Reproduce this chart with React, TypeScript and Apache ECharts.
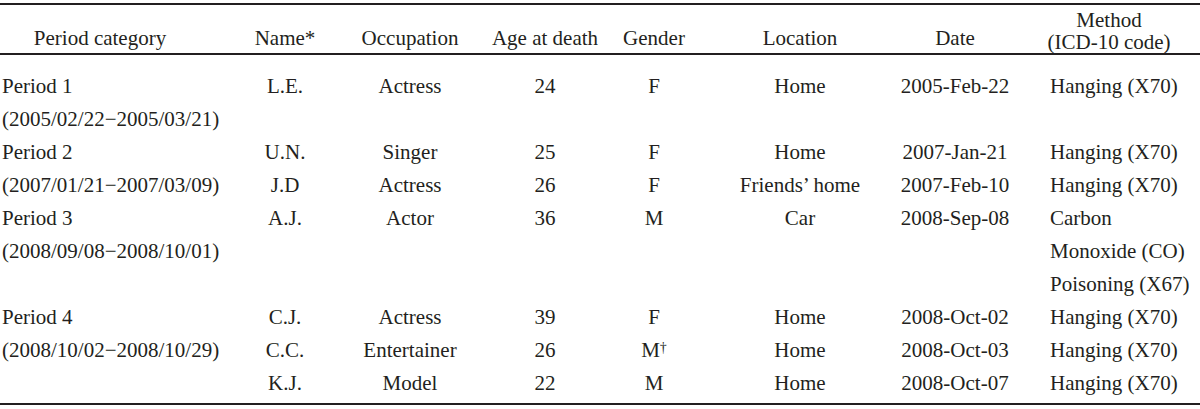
import React, { useEffect, useRef } from "react";
import * as echarts from "echarts";

const headers = ["Period category", "Name*", "Occupation", "Age at death", "Gender", "Location", "Date", "Method"];
const headerSub = "(ICD-10 code)";
const periodLabels = ["Period 1", "Period 2", "Period 3", "Period 4"];
const periodRanges = ["(2005/02/22\u22122005/03/21)", "(2007/01/21\u22122007/03/09)", "(2008/09/08\u22122008/10/01)", "(2008/10/02\u22122008/10/29)"];
const recordPeriod = [0, 1, 1, 2, 3, 3, 3];
const names = ["L.E.", "U.N.", "J.D", "A.J.", "C.J.", "C.C.", "K.J."];
const occupations = ["Actress", "Singer", "Actress", "Actor", "Actress", "Entertainer", "Model"];
const ages = [24, 25, 26, 36, 39, 26, 22];
const genders = ["F", "F", "F", "M", "F", "M\u2020", "M"];
const locations = ["Home", "Home", "Friends\u2019 home", "Car", "Home", "Home", "Home"];
const dates = ["2005-Feb-22", "2007-Jan-21", "2007-Feb-10", "2008-Sep-08", "2008-Oct-02", "2008-Oct-03", "2008-Oct-07"];
const methods = [
  ["Hanging (X70)"],
  ["Hanging (X70)"],
  ["Hanging (X70)"],
  ["Carbon", "Monoxide (CO)", "Poisoning (X67)"],
  ["Hanging (X70)"],
  ["Hanging (X70)"],
  ["Hanging (X70)"],
];

export default function App() {
  const ref = useRef<HTMLDivElement>(null);
  useEffect(() => {
    if (!ref.current) return;
    const chart = echarts.init(ref.current, null, { renderer: "svg" });
    const FONT = "'Liberation Serif', serif";
    const FS = 21;
    const COLOR = "#231f20";
    const colX = [100, 285, 410, 545, 654, 800, 955, 1109];
    const methodLeft = 1050;
    const firstLineY = 86;
    const lineH = 33;

    const els: any[] = [];
    let uid = 0;
    const rule = (y: number, w: number) =>
      els.push({
        id: "rule" + uid++,
        type: "rect",
        z: 10,
        shape: { x: 0, y: y - w / 2, width: 1200, height: w },
        style: { fill: COLOR },
      });
    rule(4, 2);
    rule(54, 1.8);
    rule(404, 2);

    const txt = (x: number, y: number, s: string, align: string, rich?: any) => {
      els.push({
        id: "t" + uid++,
        type: "text",
        x,
        y,
        style: {
          text: s,
          fill: COLOR,
          font: `${FS}px ${FONT}`,
          align,
          verticalAlign: "middle",
          lineHeight: 20,
          rich,
        },
      });
    };

    headers.forEach((h, i) => {
      const y = i === 7 ? 20 : 38;
      txt(colX[i], y, h, "center");
    });
    txt(colX[7], 42, headerSub, "center");

    let line = 0;
    periodLabels.forEach((p, pi) => {
      const recs = recordPeriod.map((v, i) => (v === pi ? i : -1)).filter((i) => i >= 0);
      const start = line;
      let recLine = start;
      recs.forEach((r) => {
        const y = firstLineY + recLine * lineH;
        txt(colX[1], y, names[r], "center");
        txt(colX[2], y, occupations[r], "center");
        txt(colX[3], y, String(ages[r]), "center");
        if (genders[r].endsWith("\u2020")) {
          txt(colX[4], y, `${genders[r].slice(0, -1)}{sup|\u2020}`, "center", {
            sup: { fontSize: 14, fontFamily: FONT, fill: COLOR, verticalAlign: "top", padding: [0, 0, 6, 0] },
          });
        } else {
          txt(colX[4], y, genders[r], "center");
        }
        txt(colX[5], y, locations[r], "center");
        txt(colX[6], y, dates[r], "center");
        methods[r].forEach((m, mi) => txt(methodLeft, y + mi * lineH, m, "left"));
        recLine += methods[r].length;
      });
      const used = Math.max(2, recLine - start);
      txt(2, firstLineY + start * lineH, p, "left");
      txt(2, firstLineY + (start + 1) * lineH, periodRanges[pi], "left");
      line = start + used;
    });

    chart.setOption({
      animation: false,
      grid: { left: 0, right: 0, top: 54, bottom: 5, show: false },
      xAxis: {
        type: "value",
        position: "top",
        min: 0,
        max: 1,
        axisLine: { show: true, lineStyle: { color: COLOR, width: 1.8 } },
        axisTick: { show: false },
        axisLabel: { show: false },
        splitLine: { show: false },
      },
      yAxis: { type: "value", show: false, min: 0, max: 1 },
      series: [],
      graphic: { elements: els },
    });
    return () => chart.dispose();
  }, []);
  return <div ref={ref} style={{ width: 1200, height: 409, position: "absolute", left: 0, top: 0 }} />;
}
